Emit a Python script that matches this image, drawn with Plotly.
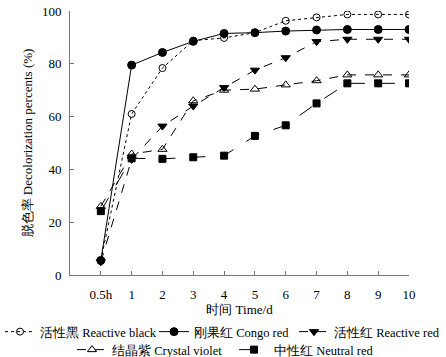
import plotly.graph_objects as go

tick_labels = ["0.5h", "1", "2", "3", "4", "5", "6", "7", "8", "9", "10"]
x_pos = list(range(11))

reactive_black = [5.5, 61.0, 78.4, 88.8, 89.8, 91.8, 96.3, 97.6, 98.7, 98.7, 98.7]
congo_red = [5.5, 79.5, 84.3, 88.5, 91.5, 91.8, 92.4, 92.8, 93.0, 93.0, 93.0]
reactive_red = [5.0, 43.8, 56.4, 64.0, 71.0, 77.6, 82.3, 88.4, 89.3, 89.3, 89.3]
crystal_violet = [26.0, 45.8, 47.6, 66.0, 70.0, 70.4, 72.0, 73.6, 75.8, 75.8, 75.8]
neutral_red = [24.2, 44.2, 44.0, 44.6, 45.2, 52.7, 56.7, 65.0, 72.6, 72.6, 72.6]

names = ["活性黑 Reactive black", "刚果红 Congo red", "活性红 Reactive red",
         "结晶紫 Crystal violet", "中性红 Neutral red"]

FONT = "'Liberation Serif', 'Times New Roman', serif"

fig = go.Figure()
# legend id, container x of legend box left, container y of row
specs = [
    (reactive_black, names[0], "dot", "circle-open", 7, "legend", 0, 332),
    (congo_red, names[1], "solid", "circle", 8, "legend2", 154, 332),
    (reactive_red, names[2], "dash", "triangle-down", 8, "legend3", 294, 332),
    (crystal_violet, names[3], "dash", "triangle-up-open", 8, "legend4", 72, 350),
    (neutral_red, names[4], "longdash", "square", 7, "legend5", 234, 350),
]
legends = {}
for ys, nm, dash, sym, sz, lg, lx, ly in specs:
    fig.add_trace(go.Scatter(
        x=x_pos, y=ys, name=nm, mode="lines+markers", legend=lg,
        line=dict(color="black", width=1, dash=dash),
        marker=dict(symbol=sym, size=sz, color="black", line=dict(color="black", width=1)),
    ))
    legends[lg] = dict(orientation="h", xref="container", yref="container",
                       x=lx / 446, y=1 - ly / 357, xanchor="left", yanchor="middle",
                       font=dict(family=FONT, size=12.5, color="black"),
                       itemwidth=30, bgcolor="rgba(0,0,0,0)")

fig.update_layout(
    width=446, height=357,
    margin=dict(l=70, r=37, t=11, b=82),
    paper_bgcolor="white", plot_bgcolor="white",
    font=dict(family=FONT, size=13, color="black"),
    showlegend=True,
    **legends,
    xaxis=dict(range=[-1, 10], tickmode="array", tickvals=x_pos, ticktext=tick_labels,
               showgrid=False, zeroline=False, showline=True, linecolor="#777777", linewidth=1,
               ticks="inside", ticklen=4, tickcolor="#777777", automargin="left",
               ticklabelstandoff=7,
               title=dict(text="时间 Time/d", standoff=14, font=dict(size=13))),
    yaxis=dict(range=[0, 100], tickvals=[0, 20, 40, 60, 80, 100],
               showgrid=False, zeroline=False, showline=True, linecolor="#777777", linewidth=1,
               ticks="inside", ticklen=4, tickcolor="#777777", automargin="bottom",
               ticklabelstandoff=5,
               title=dict(text="脱色率 Decolorization percents (%)", standoff=6, font=dict(size=13))),
)

fig.write_html("out.html", config={"displayModeBar": False},
               post_script="document.body.style.margin='0px';")
